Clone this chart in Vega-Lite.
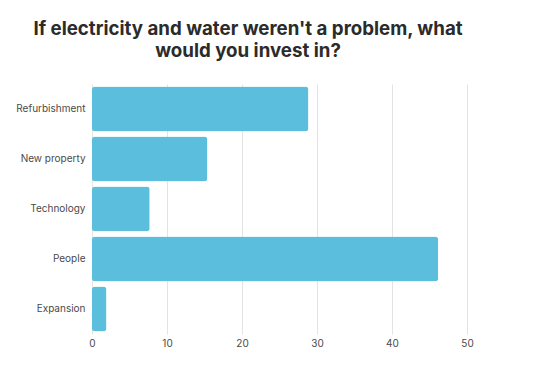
{
  "$schema": "https://vega.github.io/schema/vega-lite/v6.json",
  "autosize": "none",
  "width": 420,
  "height": 250,
  "padding": {"left": 92, "top": 84, "right": 43, "bottom": 34},
  "background": "white",
  "title": {
    "text": ["If electricity and water weren't a problem, what", "would you invest in?"],
    "font": "Inter",
    "fontSize": 18.7,
    "fontWeight": "bold",
    "color": "#2b2b2b",
    "anchor": "middle",
    "dx": -54,
    "offset": 23,
    "lineHeight": 22
  },
  "data": {
    "values": [
      {"category": "Refurbishment", "value": 28.85},
      {"category": "New property", "value": 15.38},
      {"category": "Technology", "value": 7.69},
      {"category": "People", "value": 46.15},
      {"category": "Expansion", "value": 1.92}
    ]
  },
  "mark": {"type": "bar", "color": "#5bbedc", "cornerRadius": 3},
  "encoding": {
    "y": {
      "field": "category",
      "type": "nominal",
      "sort": null,
      "scale": {"paddingInner": 0.1, "paddingOuter": 0.05},
      "axis": {
        "title": null,
        "domain": false,
        "ticks": false,
        "labelFont": "Inter",
        "labelFontSize": 10,
        "labelColor": "#4a4a4a",
        "labelPadding": 7
      }
    },
    "x": {
      "field": "value",
      "type": "quantitative",
      "scale": {"domain": [0, 56], "nice": false},
      "axis": {
        "title": null,
        "values": [0, 10, 20, 30, 40, 50],
        "domain": false,
        "ticks": false,
        "grid": true,
        "gridColor": "#e3e3e3",
        "labelFlush": false,
        "labelFont": "Inter",
        "labelFontSize": 10,
        "labelColor": "#4a4a4a",
        "labelPadding": 4
      }
    }
  },
  "config": {"view": {"stroke": null}}
}
